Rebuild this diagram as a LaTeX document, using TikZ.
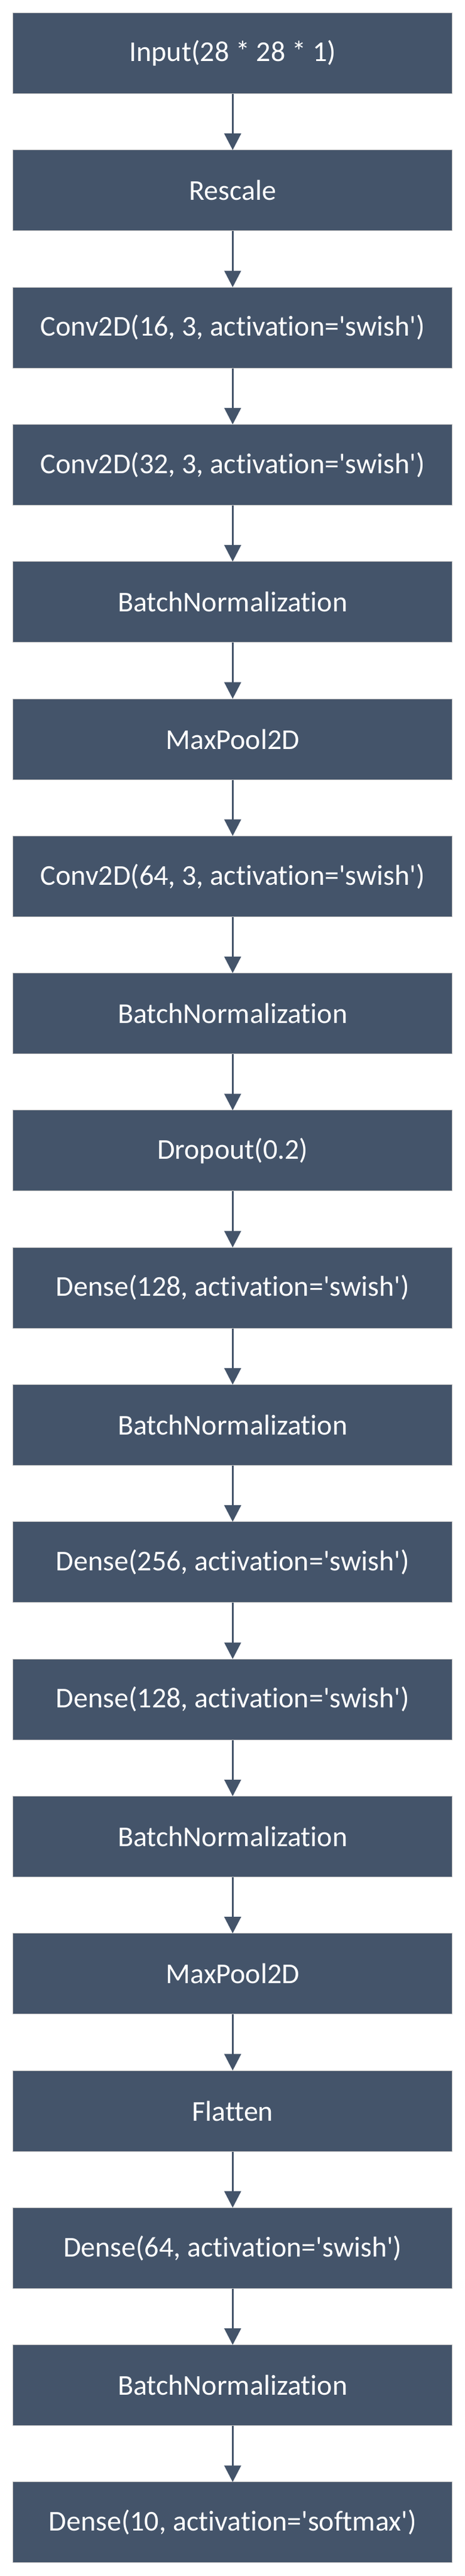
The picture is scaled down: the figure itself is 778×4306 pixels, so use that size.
\documentclass[tikz,border=0pt]{standalone}
\usepackage{fontspec}
\setmainfont{Carlito}[Ligatures={TeX,NoCommon}]
\usetikzlibrary{arrows.meta}
\definecolor{boxfill}{HTML}{44546A}
\definecolor{boxline}{HTML}{BFBFBF}
\newcommand{\sq}{\textquotesingle}
\tikzset{
  layer/.style={rectangle, fill=boxfill, draw=boxline, line width=1pt,
    minimum width=735pt, minimum height=135pt, inner sep=0pt,
    text=white, font=\fontsize{48}{58}\selectfont},
  flow/.style={draw=boxfill, line width=3.3pt,
    -{Triangle[width=27.7pt,length=27.6pt]}, shorten >=-0.5pt}
}
\begin{document}
\begin{tikzpicture}[x=1pt,y=1pt]
\fill[white] (0,0) rectangle (778,-4306);
\useasboundingbox (0,0) rectangle (778,-4306);
\def\cx{389.3}
\node[layer] (b0)  at (\cx,{-(89+0*229.3)})  {Input(28 * 28 * 1)};
\node[layer] (b1)  at (\cx,{-(89+1*229.3)})  {Rescale};
\node[layer] (b2)  at (\cx,{-(89+2*229.3)})  {Conv2D(16, 3, activation=\sq swish\sq)};
\node[layer] (b3)  at (\cx,{-(89+3*229.3)})  {Conv2D(32, 3, activation=\sq swish\sq)};
\node[layer] (b4)  at (\cx,{-(89+4*229.3)})  {BatchNormalization};
\node[layer] (b5)  at (\cx,{-(89+5*229.3)})  {MaxPool2D};
\node[layer] (b6)  at (\cx,{-(89+6*229.3)})  {Conv2D(64, 3, activation=\sq swish\sq)};
\node[layer] (b7)  at (\cx,{-(89+7*229.3)})  {BatchNormalization};
\node[layer] (b8)  at (\cx,{-(89+8*229.3)})  {Dropout(0.2)};
\node[layer] (b9)  at (\cx,{-(89+9*229.3)})  {Dense(128, activation=\sq swish\sq)};
\node[layer] (b10) at (\cx,{-(89+10*229.3)}) {BatchNormalization};
\node[layer] (b11) at (\cx,{-(89+11*229.3)}) {Dense(256, activation=\sq swish\sq)};
\node[layer] (b12) at (\cx,{-(89+12*229.3)}) {Dense(128, activation=\sq swish\sq)};
\node[layer] (b13) at (\cx,{-(89+13*229.3)}) {BatchNormalization};
\node[layer] (b14) at (\cx,{-(89+14*229.3)}) {MaxPool2D};
\node[layer] (b15) at (\cx,{-(89+15*229.3)}) {Flatten};
\node[layer] (b16) at (\cx,{-(89+16*229.3)}) {Dense(64, activation=\sq swish\sq)};
\node[layer] (b17) at (\cx,{-(89+17*229.3)}) {BatchNormalization};
\node[layer] (b18) at (\cx,{-(89+18*229.3)}) {Dense(10, activation=\sq softmax\sq)};
\foreach \a/\b in {b0/b1,b1/b2,b2/b3,b3/b4,b4/b5,b5/b6,b6/b7,b7/b8,b8/b9,b9/b10,b10/b11,b11/b12,b12/b13,b13/b14,b14/b15,b15/b16,b16/b17,b17/b18}
  \draw[flow] (\a.south) -- (\b.north);
\end{tikzpicture}
\end{document}
